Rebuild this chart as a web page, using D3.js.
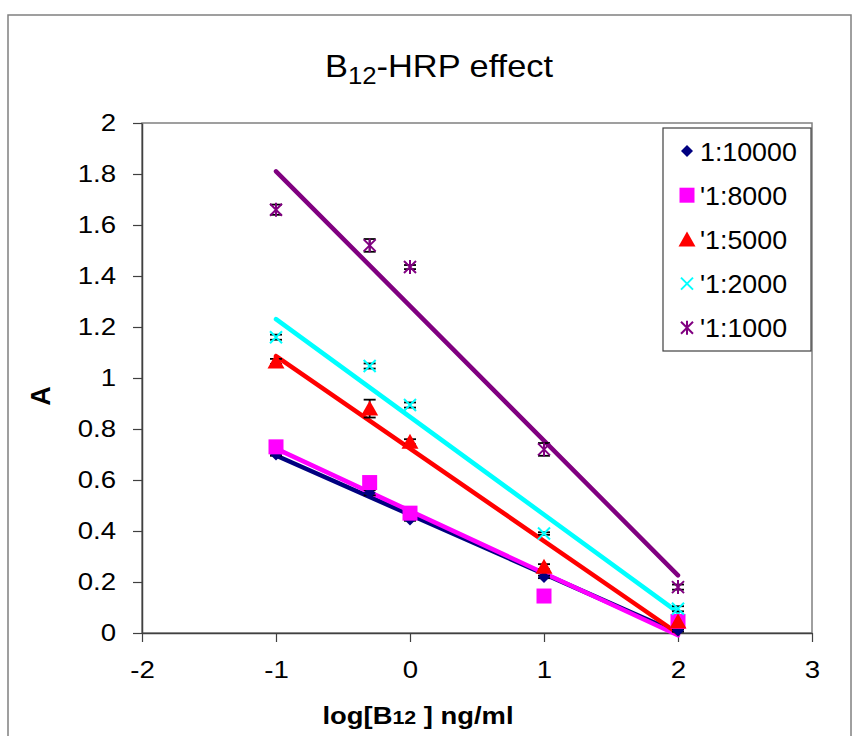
<!DOCTYPE html>
<html>
<head>
<meta charset="utf-8">
<script src="https://cdn.jsdelivr.net/npm/d3@7/dist/d3.min.js"></script>
<style>
  html, body { margin: 0; padding: 0; background: #fff; }
  svg { display: block; font-family: 'Liberation Sans', Arial, sans-serif; }
</style>
</head>
<body>
<div id="chart"></div>
<script>
// log10 of concentration (0.1, 0.5, 1, 10, 100 ng/ml)
const logConc = [-1, -0.301, 0, 1, 2];
const seriesNames = ['1:10000', "'1:8000", "'1:5000", "'1:2000", "'1:1000"];
const absNavy = [0.70, 0.55, 0.445, 0.22, 0.01];
const absMagenta = [0.73, 0.59, 0.47, 0.145, 0.045];
const absRed = [1.065, 0.88, 0.75, 0.26, 0.045];
const absCyan = [1.16, 1.047, 0.894, 0.39, 0.095];
const absPurple = [1.66, 1.52, 1.435, 0.72, 0.18];
const errNavy = [0.005, 0.01, 0.005, 0.005, 0.005];
const errMagenta = [0.005, 0.01, 0.005, 0.005, 0.005];
const errRed = [0.01, 0.035, 0.01, 0.01, 0.01];
const errCyan = [0.01, 0.01, 0.01, 0.005, 0.01];
const errPurple = [0.02, 0.025, 0.008, 0.025, 0.01];
const xTicks = [-2, -1, 0, 1, 2, 3];
const yTicks = [0, 0.2, 0.4, 0.6, 0.8, 1, 1.2, 1.4, 1.6, 1.8, 2];

const W = 859, H = 736;
const plot = { left: 142, right: 812, top: 123, bottom: 633 };
const colors = ['#000080', '#FF00FF', '#FF0000', '#00FFFF', '#800080'];
const symbols = ['diamond', 'square', 'triangle', 'cross', 'star'];
const TICK_STRETCH = 1.15;
const LEGEND_STRETCH = 1.03;

const series = seriesNames.map((name, i) => ({
  name,
  values: [absNavy, absMagenta, absRed, absCyan, absPurple][i],
  errs: [errNavy, errMagenta, errRed, errCyan, errPurple][i],
  color: colors[i],
  symbol: symbols[i]
}));

// least squares trendline, same as the spreadsheet's linear trend
function fit(xs, ys) {
  const mx = d3.mean(xs), my = d3.mean(ys);
  let sxy = 0, sxx = 0;
  xs.forEach((x, i) => { sxy += (x - mx) * (ys[i] - my); sxx += (x - mx) * (x - mx); });
  const slope = sxy / sxx;
  return { slope, intercept: my - slope * mx };
}

function markerPath(type) {
  switch (type) {
    case 'diamond': return 'M0,-6L6,0L0,6L-6,0Z';
    case 'square': return 'M-7.5,-7.5H7.5V7.5H-7.5Z';
    case 'triangle': return 'M0,-8L8.5,7L-8.5,7Z';
    case 'cross': return 'M-6,-6L6,6M-6,6L6,-6';
    case 'star': return 'M-6,-6L6,6M-6,6L6,-6M0,-7V7';
  }
}

function drawMarker(sel, s) {
  const filled = s.symbol === 'diamond' || s.symbol === 'square' || s.symbol === 'triangle';
  sel.append('path')
    .attr('d', markerPath(s.symbol))
    .attr('fill', filled ? s.color : 'none')
    .attr('stroke', s.color)
    .attr('stroke-width', filled ? 0 : 2);
}

function stretch(sel, k) {
  sel.each(function () {
    const w = this.getComputedTextLength();
    d3.select(this).attr('textLength', w * k).attr('lengthAdjust', 'spacingAndGlyphs');
  });
}

const svg = d3.select('#chart')
  .append('svg')
  .attr('width', W)
  .attr('height', H);

// outer chart border
svg.append('rect')
  .attr('x', 8).attr('y', 15)
  .attr('width', 843).attr('height', 800)
  .attr('fill', 'none')
  .attr('stroke', '#808080')
  .attr('stroke-width', 1.5);

const x = d3.scaleLinear().domain([-2, 3]).range([plot.left, plot.right]);
const y = d3.scaleLinear().domain([0, 2]).range([plot.bottom, plot.top]);

// plot area frame
svg.append('rect')
  .attr('x', plot.left).attr('y', plot.top)
  .attr('width', plot.right - plot.left).attr('height', plot.bottom - plot.top)
  .attr('fill', 'none')
  .attr('stroke', '#808080')
  .attr('stroke-width', 1.5);

const xAxis = svg.append('g')
  .attr('transform', 'translate(0,' + plot.bottom + ')')
  .call(d3.axisBottom(x).tickValues(xTicks).tickFormat(d => String(d)).tickSize(9).tickPadding(19).tickSizeOuter(0));

const yAxis = svg.append('g')
  .attr('transform', 'translate(' + plot.left + ',0)')
  .call(d3.axisLeft(y).tickValues(yTicks).tickFormat(d => String(+d.toFixed(1))).tickSize(9).tickPadding(17).tickSizeOuter(0));

[xAxis, yAxis].forEach(a => {
  a.attr('font-family', null).attr('font-size', null);
  a.select('.domain').attr('stroke', '#404040').attr('stroke-width', 1.5);
  a.selectAll('.tick line').attr('stroke', '#404040').attr('stroke-width', 1.2);
  a.selectAll('.tick text')
    .attr('fill', '#000')
    .style('font-size', '24px')
    .call(stretch, TICK_STRETCH);
});

// trendlines
series.forEach(s => {
  const f = fit(logConc, s.values);
  const x0 = d3.min(logConc), x1 = d3.max(logConc);
  svg.append('line')
    .attr('x1', x(x0)).attr('y1', y(f.intercept + f.slope * x0))
    .attr('x2', x(x1)).attr('y2', y(f.intercept + f.slope * x1))
    .attr('stroke', s.color)
    .attr('stroke-width', 4.5)
    .attr('stroke-linecap', 'round');
});

// error bars
series.forEach(s => {
  const g = svg.append('g').attr('stroke', '#000').attr('stroke-width', 1.8);
  logConc.forEach((lx, i) => {
    const cx = x(lx);
    const top = y(s.values[i] + s.errs[i]);
    const bot = y(s.values[i] - s.errs[i]);
    g.append('line').attr('x1', cx).attr('x2', cx).attr('y1', top).attr('y2', bot);
    g.append('line').attr('x1', cx - 6).attr('x2', cx + 6).attr('y1', top).attr('y2', top);
    g.append('line').attr('x1', cx - 6).attr('x2', cx + 6).attr('y1', bot).attr('y2', bot);
  });
});

// markers
series.forEach(s => {
  logConc.forEach((lx, i) => {
    const g = svg.append('g')
      .attr('transform', 'translate(' + x(lx) + ',' + y(s.values[i]) + ')');
    drawMarker(g, s);
  });
});

// legend
const legend = svg.append('g');
legend.append('rect')
  .attr('x', 663).attr('y', 128)
  .attr('width', 148).attr('height', 223)
  .attr('fill', '#fff')
  .attr('stroke', '#404040')
  .attr('stroke-width', 1.2);

series.forEach((s, i) => {
  const cy = 151 + i * 44.2;
  const g = legend.append('g').attr('transform', 'translate(687,' + cy + ')');
  drawMarker(g, s);
  legend.append('text')
    .attr('x', 700)
    .attr('y', cy + 9.5)
    .style('font-size', '26px')
    .text(s.name)
    .call(stretch, LEGEND_STRETCH);
});

// title
const title = svg.append('text')
  .attr('x', 439)
  .attr('y', 77)
  .attr('text-anchor', 'middle')
  .style('font-size', '32px');
title.append('tspan').text('B');
title.append('tspan').attr('dy', 7).style('font-size', '24px').text('12');
title.append('tspan').attr('dy', -7).text('-HRP effect');
title.attr('textLength', 228).attr('lengthAdjust', 'spacingAndGlyphs');

// axis titles
const xTitle = svg.append('text')
  .attr('x', 418)
  .attr('y', 724)
  .attr('text-anchor', 'middle')
  .style('font-size', '23px')
  .style('font-weight', 'bold');
xTitle.append('tspan').text('log[B');
xTitle.append('tspan').style('font-size', '18px').text('12');
xTitle.append('tspan').text(' ] ng/ml');
xTitle.attr('textLength', 191).attr('lengthAdjust', 'spacingAndGlyphs');

svg.append('text')
  .attr('transform', 'translate(50,396) rotate(-90)')
  .attr('text-anchor', 'middle')
  .style('font-size', '27px')
  .style('font-weight', 'bold')
  .text('A');
</script>
</body>
</html>
